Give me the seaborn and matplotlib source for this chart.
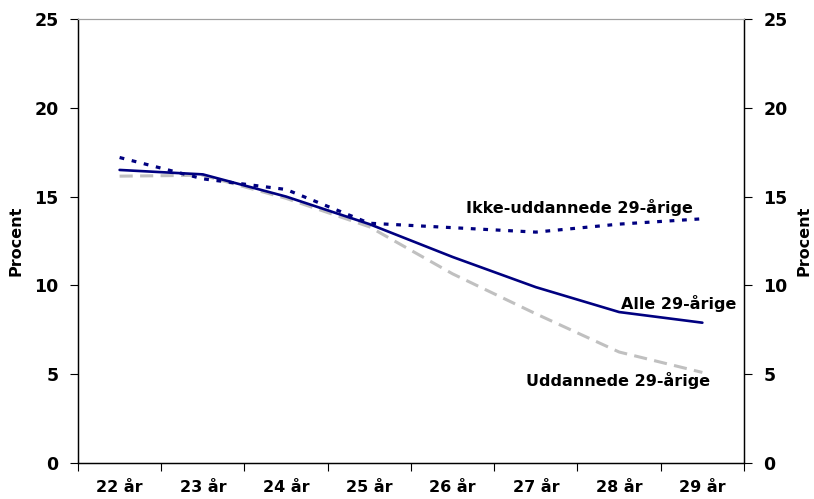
import pandas as pd
import matplotlib
matplotlib.use('Agg')
import matplotlib.pyplot as plt
import seaborn as sns

ages = ["22 år", "23 år", "24 år", "25 år", "26 år", "27 år", "28 år", "29 år"]
alle = [16.5, 16.25, 15.0, 13.45, 11.6, 9.9, 8.5, 7.9]
ikke_uddannede = [17.2, 16.0, 15.4, 13.5, 13.25, 13.0, 13.45, 13.75]
uddannede = [16.15, 16.2, 14.9, 13.3, 10.65, 8.4, 6.25, 5.1]

navy = "#000080"
grey = "#C0C0C0"


def main():
	sns.set_style("white")
	plt.rcParams['font.family'] = ['DejaVu Sans']
	plt.rcParams.update({"text.color": "black", "axes.labelcolor": "black",
		"xtick.color": "black", "ytick.color": "black"})
	df = pd.DataFrame({
		"pos": list(range(len(ages))) * 3,
		"value": alle + ikke_uddannede + uddannede,
		"serie": ["alle"] * 8 + ["ikke"] * 8 + ["udd"] * 8,
	})

	fig = plt.figure(figsize=(8.14, 4.99), dpi=100)
	ax = fig.add_axes([0.0958, 0.0721, 0.8182, 0.8899])

	sns.lineplot(data=df[df.serie == "udd"], x="pos", y="value", ax=ax,
		color=grey, lw=2.2, dashes=False)
	sns.lineplot(data=df[df.serie == "ikke"], x="pos", y="value", ax=ax,
		color=navy, lw=2.3, dashes=False)
	sns.lineplot(data=df[df.serie == "alle"], x="pos", y="value", ax=ax,
		color=navy, lw=1.9, dashes=False)
	ax.lines[0].set_dashes((4.3, 2.4))
	ax.lines[1].set_dashes((1.5, 2.4))

	ax.set_xlim(-0.5, 7.5)
	ax.set_ylim(0, 25)
	ax.set_xticks([i - 0.5 for i in range(9)])
	ax.set_xticklabels([])
	ax.set_xticks(range(8), minor=True)
	ax.set_xticklabels(ages, minor=True, fontsize=11.5, fontweight="bold")
	ax.tick_params(axis="x", which="major", length=6, width=0.8, direction="out", bottom=True)
	ax.tick_params(axis="x", which="minor", length=0, pad=12)
	ax.set_yticks(range(0, 26, 5))
	ax.tick_params(axis="y", length=6, width=0.8, direction="out", left=True, labelsize=12.5, pad=8)
	for lab in ax.get_yticklabels():
		lab.set_fontweight("bold")
	ax.set_xlabel("")
	ax.set_ylabel("Procent", fontsize=11.5, fontweight="bold", labelpad=8)

	ax2 = ax.twinx()
	ax2.set_ylim(0, 25)
	ax2.set_yticks(range(0, 26, 5))
	ax2.tick_params(axis="y", length=6, width=0.8, direction="out", right=True, labelsize=12.5, pad=8)
	for lab in ax2.get_yticklabels():
		lab.set_fontweight("bold")
	ax2.set_ylabel("Procent", fontsize=11.5, fontweight="bold", labelpad=6)

	for a in (ax, ax2):
		for side in ("left", "right", "bottom"):
			a.spines[side].set_color("black")
			a.spines[side].set_linewidth(0.9)
		a.spines["top"].set_color("#A0A0A0")
		a.spines["top"].set_linewidth(0.8)

	ax.text(5.52, 14.4, "Ikke-uddannede 29-årige", fontsize=11.5, fontweight="bold", ha="center", va="center")
	ax.text(6.71, 9.0, "Alle 29-årige", fontsize=11.5, fontweight="bold", ha="center", va="center")
	ax.text(5.99, 4.65, "Uddannede 29-årige", fontsize=11.5, fontweight="bold", ha="center", va="center")

	fig.savefig("out.png", dpi=100)


if __name__ == "__main__":
	main()
